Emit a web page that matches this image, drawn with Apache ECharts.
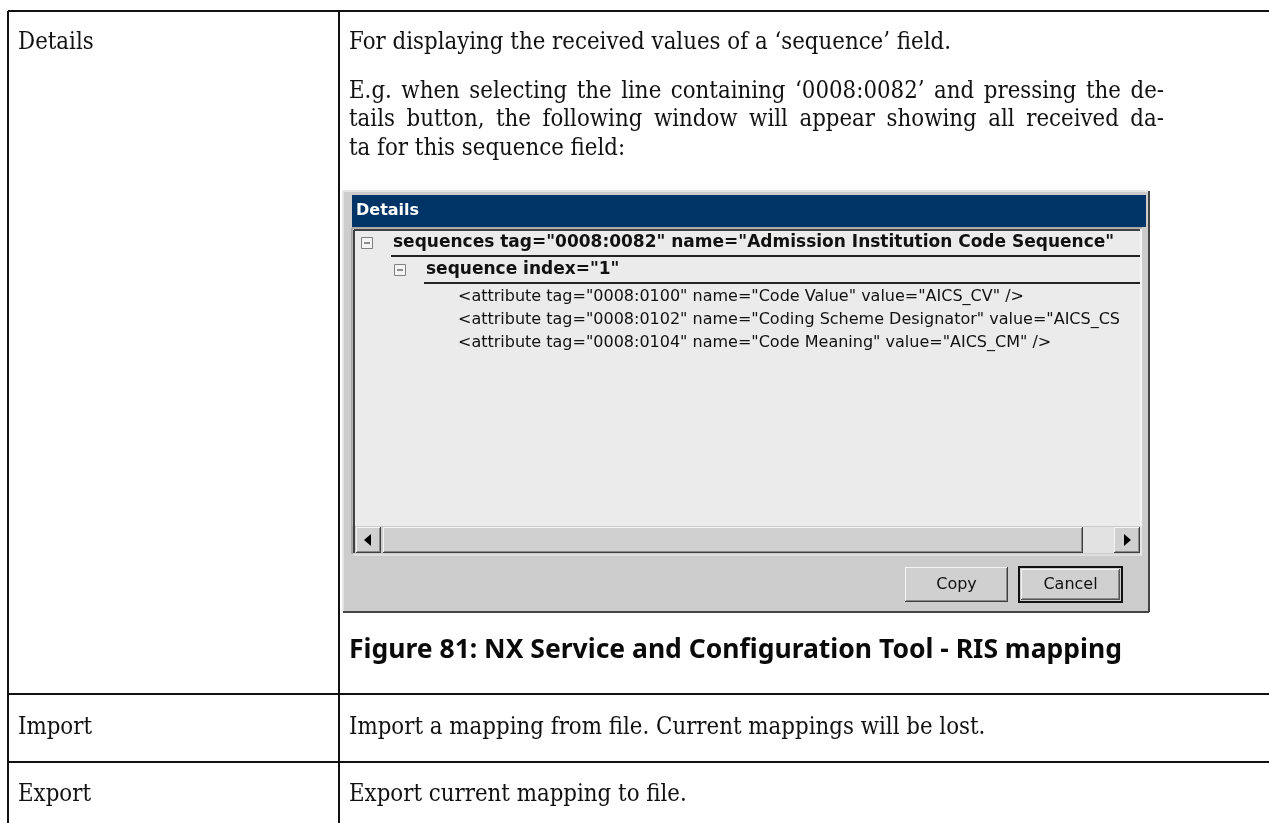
<!DOCTYPE html>
<html>
<head>
<meta charset="utf-8">
<script src="https://cdn.jsdelivr.net/npm/echarts@6/dist/echarts.min.js"></script>
<style>html,body{margin:0;padding:0;background:#fff}#c{width:1269px;height:823px}</style>
</head>
<body>
<div id="c"></div>
<script>
// ---- content ----
var rowLabels = ['Details', 'Import', 'Export'];
var detailsIntro = 'For displaying the received values of a \u2018sequence\u2019 field.';
var detailsExampleLines = [
  'E.g. when selecting the line containing \u20180008:0082\u2019 and pressing the de-',
  'tails button, the following window will appear showing all received da-',
  'ta for this sequence field:'
];
var rowDescriptions = ['', 'Import a mapping from file. Current mappings will be lost.', 'Export current mapping to file.'];
var windowTitle = 'Details';
var treeHeaders = ['sequences tag="0008:0082" name="Admission Institution Code Sequence"', 'sequence index="1"'];
var treeAttributes = [
  '<attribute tag="0008:0100" name="Code Value" value="AICS_CV" />',
  '<attribute tag="0008:0102" name="Coding Scheme Designator" value="AICS_CS',
  '<attribute tag="0008:0104" name="Code Meaning" value="AICS_CM" />'
];
var buttonLabels = ['Copy', 'Cancel'];
var figureCaption = 'Figure 81: NX Service and Configuration Tool - RIS mapping';

// ---- drawing ----
var chart = echarts.init(document.getElementById('c'));
var g = [];
var SERIF = '"DejaVu Serif", serif';
var SANS = '"DejaVu Sans", sans-serif';
var bodyFont = '24px ' + SERIF;
var BODY_SX = 0.89;
var ctx = document.createElement('canvas').getContext('2d');
function tw(t, font) { ctx.font = font; return ctx.measureText(t).width; }

function line(x1, y1, x2, y2, color, w) {
  g.push({type: 'line', silent: true, shape: {x1: x1, y1: y1, x2: x2, y2: y2}, style: {stroke: color, lineWidth: w || 1}});
}
function rect(x, y, w, h, fill, stroke, lw) {
  g.push({type: 'rect', silent: true, shape: {x: x, y: y, width: w, height: h}, style: {fill: fill || 'none', stroke: stroke || 'none', lineWidth: lw || 1}});
}
function text(t, x, y, font, color, align, sx) {
  g.push({type: 'text', silent: true, x: x, y: y, scaleX: sx || 1, style: {text: t, font: font, fill: color || '#111', align: align || 'left', verticalAlign: 'middle'}});
}
function body(t, x, y) { text(t, x, y, bodyFont, '#111', 'left', BODY_SX); }
function justify(t, x0, x1, y) {
  var words = t.split(' ');
  var total = 0;
  words.forEach(function (w) { total += tw(w, bodyFont) * BODY_SX; });
  var gap = (x1 - x0 - total) / (words.length - 1);
  var x = x0;
  words.forEach(function (w) { body(w, x, y); x += tw(w, bodyFont) * BODY_SX + gap; });
}

// table grid
var TL = 8, TC = 339, TR = 1290, TT = 11, TB = 840;
var rowBottoms = [694, 762];
line(TL, TT, TR, TT, '#111', 2);
line(TL, TT, TL, TB, '#111', 2);
line(TC, TT, TC, TB, '#111', 2);
rowBottoms.forEach(function (y) { line(TL, y, TR, y, '#111', 2); });

// row labels / descriptions
var labelY = [43, 728, 795];
rowLabels.forEach(function (l, i) { body(l, 18, labelY[i]); });
rowDescriptions.forEach(function (d, i) { if (d) body(d, 349, labelY[i]); });
body(detailsIntro, 349, 43);
var exY = [92, 120, 149];
detailsExampleLines.forEach(function (l, i) {
  if (i < detailsExampleLines.length - 1) justify(l, 349, 1164, exY[i]);
  else body(l, 349, exY[i]);
});

// window screenshot
var WX = 343, WY = 191, WR = 1149, WB = 612;
rect(WX, WY, WR - WX, WB - WY, '#cccccc');
line(WX, WY, WR, WY, '#e4e4e4', 2);
line(WX, WY, WX, WB, '#e4e4e4', 2);
line(WR, WY, WR, WB, '#444', 2);
line(WX, WB, WR, WB, '#444', 2);
rect(WX + 2, WY + 2, WR - WX - 4, WB - WY - 4, '#cccccc');
// title bar
rect(352, 195, 794, 32, '#013466');
text(windowTitle, 356, 211, 'bold 16px ' + SANS, '#ffffff');
// tree panel
rect(352, 228, 790, 298, '#ebebeb');
line(352, 228, 1142, 228, '#808080', 1);
line(352, 228, 352, 554, '#808080', 1);
line(354, 230, 1140, 230, '#404040', 2);
line(354, 230, 354, 553, '#404040', 2);
line(1141, 229, 1141, 555, '#ffffff', 1);
// tree rows
var treeRowY = [243, 270];
var treeIndent = [361, 394];
treeHeaders.forEach(function (h, i) {
  var bx = treeIndent[i], by = treeRowY[i] - 6;
  rect(bx + 0.5, by + 0.5, 11, 11, '#f4f4f4', '#808080', 1);
  line(bx + 3, by + 6, bx + 9, by + 6, '#222', 1);
  text(h, bx + 32, treeRowY[i], 'bold 17px ' + SANS, '#111');
  line(bx + 30, treeRowY[i] + 13, 1140, treeRowY[i] + 13, '#222', 2);
});
var attrY = [297, 320, 343];
treeAttributes.forEach(function (a, i) { text(a, 458, attrY[i], '16px ' + SANS, '#111'); });
// scrollbar
var SY = 527, SH = 26;
rect(355, SY, 785, SH, '#cccccc');
function bevel(x, y, w, h, outerDark) {
  rect(x, y, w, h, '#d0d0d0');
  line(x, y + 0.5, x + w, y + 0.5, '#f4f4f4', 1);
  line(x + 0.5, y, x + 0.5, y + h, '#f4f4f4', 1);
  line(x, y + h - 0.5, x + w, y + h - 0.5, outerDark || '#404040', 1);
  line(x + w - 0.5, y, x + w - 0.5, y + h, outerDark || '#404040', 1);
  line(x + 1, y + h - 1.5, x + w - 1, y + h - 1.5, '#888', 1);
  line(x + w - 1.5, y + 1, x + w - 1.5, y + h - 1, '#888', 1);
}
bevel(356, SY, 25, SH);
g.push({type: 'polygon', silent: true, shape: {points: [[364, SY + 13], [371, SY + 7], [371, SY + 19]]}, style: {fill: '#000'}});
bevel(383, SY, 700, SH);
rect(1083, SY, 31, SH, '#e2e2e2');
bevel(1114, SY, 26, SH);
g.push({type: 'polygon', silent: true, shape: {points: [[1131, SY + 13], [1124, SY + 7], [1124, SY + 19]]}, style: {fill: '#000'}});
line(353, 555, 1142, 555, '#f0f0f0', 1);
// buttons
var btnX = [905, 1019];
buttonLabels.forEach(function (b, i) {
  var x = btnX[i], y = 567, w = 103, h = 35;
  if (i === 1) { rect(x, y, w, h, '#cccccc', '#111', 2); bevel(x + 2, y + 2, w - 4, h - 4, '#555'); }
  else bevel(x, y, w, h);
  text(b, x + w / 2, y + h / 2, '16px ' + SANS, '#111', 'center');
});

// caption
text(figureCaption, 349, 650, 'bold 26.5px "Noto Sans", "Open Sans", sans-serif', '#0a0a0a');

chart.setOption({animation: false, graphic: {elements: g}});
</script>
</body>
</html>
